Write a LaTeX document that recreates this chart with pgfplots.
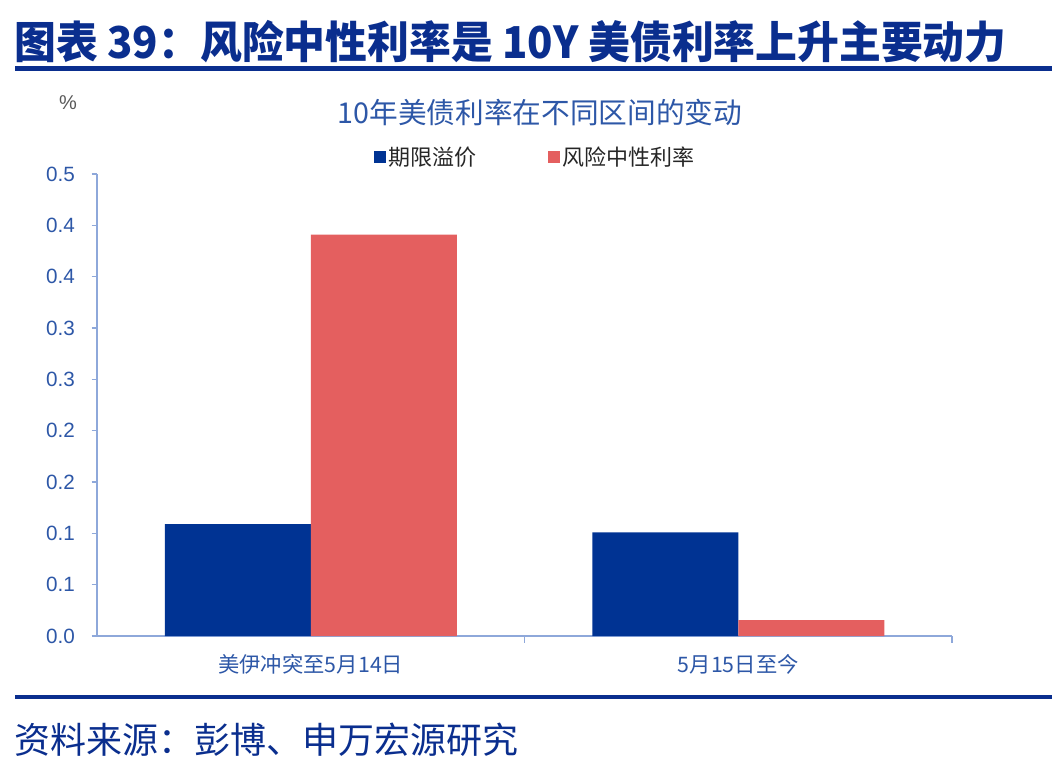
\documentclass[border=0pt]{standalone}
\usepackage{pgfplots}
\pgfplotsset{compat=1.18}
\usepackage{fontspec}
\setmainfont{Liberation Sans}
\newfontfamily\cjk{Noto Sans CJK SC}
\definecolor{navy}{HTML}{003393}
\definecolor{salmon}{HTML}{E45F5F}
\definecolor{axisblue}{HTML}{8EA8DA}
\definecolor{labelblue}{HTML}{2D57A7}
\definecolor{headblue}{HTML}{0A2E8E}

\begin{document}
\begin{tikzpicture}[x=0.75pt,y=-0.75pt]
\path[use as bounding box] (0,0) rectangle (1062,772);
\coordinate (plotorigin) at (97,636);
% report header and footer
\node[anchor=west, text=headblue, font=\cjk\bfseries\fontsize{32}{36}\selectfont, inner sep=0] at (14,42) {\scalebox{0.98}[1.03]{图表 39：风险中性利率是 10Y 美债利率上升主要动力}};
\fill[headblue] (15,66) rectangle (1052,70.5);
\fill[headblue] (15,695) rectangle (1052,699);
\node[anchor=west, text=headblue, font=\cjk\fontsize{27}{30}\selectfont, inner sep=0] at (14,740) {资料来源：彭博、申万宏源研究};
% unit and chart title
\node[text=black!65, font=\fontsize{15}{17}\selectfont] at (68,103) {\%};
\node[text=labelblue, font=\cjk\fontsize{21.5}{24}\selectfont] at (540,112) {10年美债利率在不同区间的变动};

\begin{axis}[
  at={(plotorigin)}, anchor=south west,
  scale only axis, width=641.25pt, height=346.5pt,
  ybar=0pt, bar width=109.5pt,
  xmin=-0.5, xmax=1.5, ymin=0, ymax=0.45,
  axis x line*=bottom, axis y line*=left,
  axis line style={draw=axisblue, line width=0.8pt},
  tick align=outside,
  major tick length=4pt, minor tick length=5pt,
  xtick={0,1},
  xticklabels={美伊冲突至5月14日, 5月15日至今},
  major x tick style={draw=none},
  minor xtick={0.5,1.5},
  minor x tick style={draw=axisblue, line width=0.8pt},
  % labels rounded to one decimal
  ytick={0,0.05,0.1,0.15,0.2,0.25,0.3,0.35,0.4,0.45},
  yticklabels={0.0,0.1,0.1,0.2,0.2,0.3,0.3,0.4,0.4,0.5},
  y tick style={draw=axisblue, line width=0.8pt},
  xticklabel style={text=labelblue, font=\cjk\fontsize{16}{18}\selectfont, yshift=-6pt},
  yticklabel style={text=labelblue, font=\fontsize{15.5}{18}\selectfont, xshift=-9pt},
  legend style={at={(0.513,1.037)}, anchor=center, draw=none, fill=none,
    legend columns=2, font=\cjk\fontsize{16.5}{18}\selectfont, text=black!85,
    /tikz/every even column/.append style={column sep=52pt}},
  legend image code/.code={\fill[#1] (0pt,-4.5pt) rectangle (9pt,4.5pt);},
]
\addplot[fill=navy, draw=none] coordinates {(0,0.109) (1,0.101)};
\addplot[fill=salmon, draw=none] coordinates {(0,0.391) (1,0.0156)};
\legend{期限溢价, 风险中性利率}
\end{axis}
\end{tikzpicture}
\end{document}
